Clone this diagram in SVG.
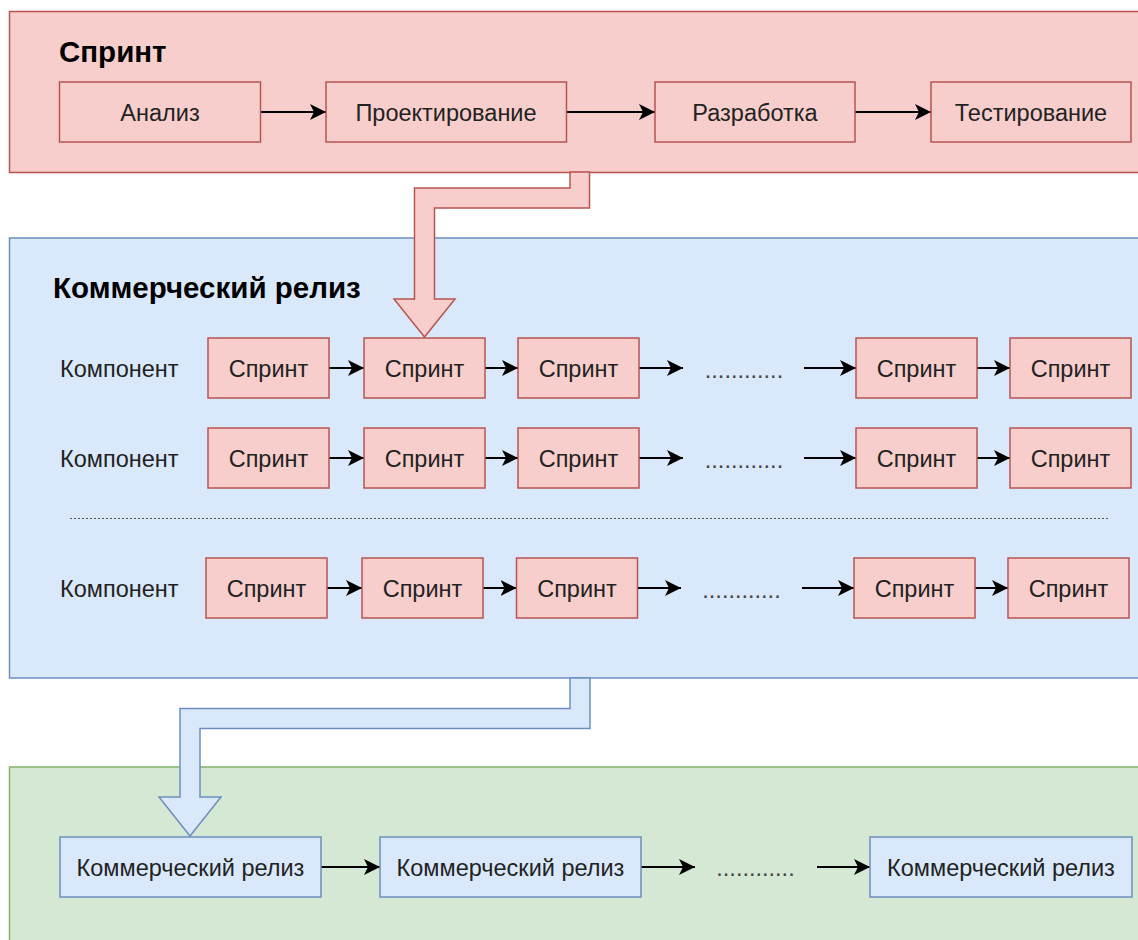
<svg xmlns="http://www.w3.org/2000/svg" width="1138" height="940" viewBox="0 0 1138 940">
<style>
  text { font-family: "Liberation Sans", Arial, Helvetica, sans-serif; fill: #222; }
  .t { font-size: 23.5px; text-anchor: middle; }
  .lbl { font-size: 23.5px; }
  .title { font-size: 29.5px; font-weight: bold; fill: #000; }
  .dots { font-size: 23.5px; text-anchor: middle; fill: #444; }
  .red { fill: #f8cecc; stroke: #b85450; stroke-width: 1.5; }
  .blue { fill: #dae8fc; stroke: #6c8ebf; stroke-width: 1.5; }
  .green { fill: #d5e8d4; stroke: #82b366; stroke-width: 1.5; }
  .edge { fill: none; stroke: #000; stroke-width: 2; marker-end: url(#arr); }
  .sep { fill: none; stroke: #555; stroke-width: 1; stroke-dasharray: 2 2; }
</style>
<defs>
  <marker id="arr" markerUnits="userSpaceOnUse" markerWidth="17" markerHeight="16" refX="16" refY="8" orient="auto">
    <path d="M0,0 L16,8 L0,16 L4,8 Z" fill="#000"/>
  </marker>
</defs>

<g id="containers">
  <g id="sprint-container">
    <rect class="red" x="9.5" y="11.5" width="1140" height="161"/>
    <text class="title" x="59" y="62">Спринт</text>
  </g>
  <g id="release-container">
    <rect class="blue" x="9.5" y="238" width="1140" height="440"/>
    <text class="title" x="53" y="298">Коммерческий релиз</text>
  </g>
  <g id="product-container">
    <rect class="green" x="9.5" y="767" width="1140" height="200"/>
  </g>
</g>

<g id="connectors">
  <path class="red" d="M570,172 L570,188 L414.5,188 L414.5,299 L394,299 L424.5,337 L455,299 L434.5,299 L434.5,208 L589.5,208 L589.5,172 Z"/>
  <path class="blue" d="M570,678 L570,708.5 L180,708.5 L180,797 L159,797 L190,836 L221,797 L200,797 L200,728.5 L590,728.5 L590,678 Z"/>

  <line class="edge" x1="260.5" y1="112" x2="326" y2="112"/>
  <line class="edge" x1="566.5" y1="112" x2="655" y2="112"/>
  <line class="edge" x1="855" y1="112" x2="931" y2="112"/>

  <line class="edge" x1="329" y1="368" x2="364" y2="368"/>
  <line class="edge" x1="485" y1="368" x2="518" y2="368"/>
  <line class="edge" x1="639" y1="368" x2="683" y2="368"/>
  <line class="edge" x1="804" y1="368" x2="856" y2="368"/>
  <line class="edge" x1="977" y1="368" x2="1010" y2="368"/>

  <line class="edge" x1="329" y1="458" x2="364" y2="458"/>
  <line class="edge" x1="485" y1="458" x2="518" y2="458"/>
  <line class="edge" x1="639" y1="458" x2="683" y2="458"/>
  <line class="edge" x1="804" y1="458" x2="856" y2="458"/>
  <line class="edge" x1="977" y1="458" x2="1010" y2="458"/>

  <line class="edge" x1="327" y1="588" x2="362" y2="588"/>
  <line class="edge" x1="483" y1="588" x2="516.5" y2="588"/>
  <line class="edge" x1="637.5" y1="588" x2="681" y2="588"/>
  <line class="edge" x1="802" y1="588" x2="854" y2="588"/>
  <line class="edge" x1="975" y1="588" x2="1008" y2="588"/>

  <line class="edge" x1="321" y1="867" x2="380" y2="867"/>
  <line class="edge" x1="641" y1="867" x2="695" y2="867"/>
  <line class="edge" x1="817" y1="867" x2="870" y2="867"/>
</g>

<g id="sprint-steps">
  <g id="analysis"><rect class="red" x="59.5" y="82" width="201" height="60"/><text class="t" x="160" y="120.5">Анализ</text></g>
  <g id="design"><rect class="red" x="326" y="82" width="240.5" height="60"/><text class="t" x="446" y="120.5">Проектирование</text></g>
  <g id="development"><rect class="red" x="655" y="82" width="200" height="60"/><text class="t" x="755" y="120.5">Разработка</text></g>
  <g id="testing"><rect class="red" x="931" y="82" width="200" height="60"/><text class="t" x="1031" y="120.5">Тестирование</text></g>
</g>

<g id="row1">
  <text class="lbl" x="60" y="376.5">Компонент</text>
  <g id="r1s1"><rect class="red" x="208" y="338" width="121" height="60"/><text class="t" x="268.5" y="376.5">Спринт</text></g>
  <g id="r1s2"><rect class="red" x="364" y="338" width="121" height="60"/><text class="t" x="424.5" y="376.5">Спринт</text></g>
  <g id="r1s3"><rect class="red" x="518" y="338" width="121" height="60"/><text class="t" x="578.5" y="376.5">Спринт</text></g>
  <text class="dots" x="744" y="377.5">............</text>
  <g id="r1s4"><rect class="red" x="856" y="338" width="121" height="60"/><text class="t" x="916.5" y="376.5">Спринт</text></g>
  <g id="r1s5"><rect class="red" x="1010" y="338" width="121" height="60"/><text class="t" x="1070.5" y="376.5">Спринт</text></g>
</g>

<g id="row2">
  <text class="lbl" x="60" y="466.5">Компонент</text>
  <g id="r2s1"><rect class="red" x="208" y="428" width="121" height="60"/><text class="t" x="268.5" y="466.5">Спринт</text></g>
  <g id="r2s2"><rect class="red" x="364" y="428" width="121" height="60"/><text class="t" x="424.5" y="466.5">Спринт</text></g>
  <g id="r2s3"><rect class="red" x="518" y="428" width="121" height="60"/><text class="t" x="578.5" y="466.5">Спринт</text></g>
  <text class="dots" x="744" y="467.5">............</text>
  <g id="r2s4"><rect class="red" x="856" y="428" width="121" height="60"/><text class="t" x="916.5" y="466.5">Спринт</text></g>
  <g id="r2s5"><rect class="red" x="1010" y="428" width="121" height="60"/><text class="t" x="1070.5" y="466.5">Спринт</text></g>
</g>

<g id="separator">
  <line class="sep" x1="70" y1="518.5" x2="1108" y2="518.5"/>
</g>

<g id="row3">
  <text class="lbl" x="60" y="596.5">Компонент</text>
  <g id="r3s1"><rect class="red" x="206" y="558" width="121" height="60"/><text class="t" x="266.5" y="596.5">Спринт</text></g>
  <g id="r3s2"><rect class="red" x="362" y="558" width="121" height="60"/><text class="t" x="422.5" y="596.5">Спринт</text></g>
  <g id="r3s3"><rect class="red" x="516.5" y="558" width="121" height="60"/><text class="t" x="577" y="596.5">Спринт</text></g>
  <text class="dots" x="741.5" y="597.5">............</text>
  <g id="r3s4"><rect class="red" x="854" y="558" width="121" height="60"/><text class="t" x="914.5" y="596.5">Спринт</text></g>
  <g id="r3s5"><rect class="red" x="1008" y="558" width="121" height="60"/><text class="t" x="1068.5" y="596.5">Спринт</text></g>
</g>

<g id="releases">
  <g id="rel1"><rect class="blue" x="60" y="837" width="261" height="60"/><text class="t" x="190.5" y="875.5">Коммерческий релиз</text></g>
  <g id="rel2"><rect class="blue" x="380" y="837" width="261" height="60"/><text class="t" x="510.5" y="875.5">Коммерческий релиз</text></g>
  <text class="dots" x="755.5" y="876">............</text>
  <g id="rel3"><rect class="blue" x="870" y="837" width="262" height="60"/><text class="t" x="1001" y="875.5">Коммерческий релиз</text></g>
</g>
</svg>
